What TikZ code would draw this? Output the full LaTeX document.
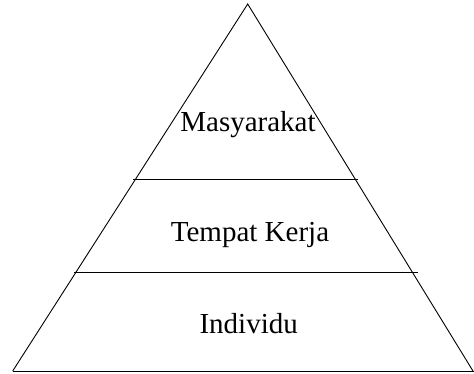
\documentclass[tikz,border=0pt]{standalone}
\usepackage{fontspec}
\setmainfont{Liberation Serif}
\begin{document}
\begin{tikzpicture}[x=1pt,y=-1pt,
  edge/.style={line width=0.9pt, black},
  lbl/.style={anchor=base, inner sep=0pt, font=\fontsize{29}{34}\selectfont}]
\useasboundingbox (0,0) rectangle (474,373);
\coordinate (apex) at (247.7,4);
\coordinate (bl) at (12.7,371);
\coordinate (br) at (473,371);
\coordinate (l1a) at (133,179);
\coordinate (l1b) at (358,179);
\coordinate (l2a) at (74,272);
\coordinate (l2b) at (418,272);
\coordinate (baseend) at (474,371);
\draw[edge, line join=miter] (bl) -- (apex) -- (br);
\draw[edge] (bl) -- (baseend);
\draw[edge] (l1a) -- (l1b);
\draw[edge] (l2a) -- (l2b);
\node[lbl] (m) at (248,131.7) {Masyarakat};
\node[lbl] (t) at (250,241.7) {Tempat Kerja};
\node[lbl] (i) at (248.7,333) {Individu};
\end{tikzpicture}
\end{document}
